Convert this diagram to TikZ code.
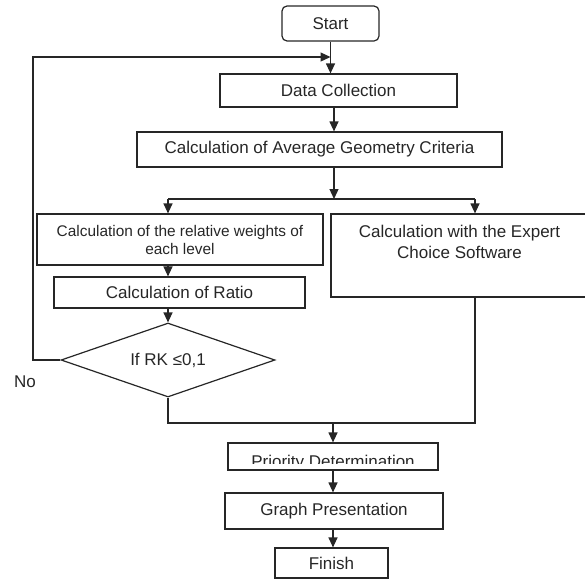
\documentclass[tikz,border=0pt]{standalone}
\usepackage{fontspec}
\setmainfont{Liberation Sans}
\usetikzlibrary{positioning}
\usetikzlibrary{calc}
\usetikzlibrary{shapes.geometric}
\usetikzlibrary{arrows.meta}
\tikzset{
    stepbox/.style={
    draw,
    inner sep=0pt,
    align=center
    },
    >={Triangle[length=10pt,width=9pt]}
}

\begin{document}
\begin{tikzpicture}[x=1pt,y=-1pt,line width=1.2pt,color=black!85]
\fontsize{17}{21}\selectfont
\useasboundingbox (0,0) rectangle (585,579);

\node [stepbox,rounded corners=5pt,minimum width=97pt,minimum height=35pt](start) at (330.5,23.5) {Start};
\node [stepbox,minimum width=237pt,minimum height=33pt](dc) at (338.5,90.5) {Data Collection};
\node [stepbox,minimum width=365pt,minimum height=35pt](avg) at (319.5,149.5) {Calculation of Average Geometry Criteria};

\node [stepbox,minimum width=286pt,minimum height=51pt,font=\fontsize{15.4}{18}\selectfont](rw) at (180,239.5) {Calculation of the relative weights of\\each level};
\node [stepbox,minimum width=257pt,minimum height=83pt](ex) at (459.5,255.5) {};
\node [anchor=north,align=center](ext) at ([yshift=-6pt]ex.north) {Calculation with the Expert\\Choice Software};

\node [stepbox,minimum width=251pt,minimum height=31pt](ra) at (179.5,292.5) {Calculation of Ratio};
\node [stepbox,diamond,aspect=2.9,minimum width=214pt,minimum height=74pt](dia) at (168,360) {If RK ≤0,1};
\node (no) at (25,382) {No};

\node [stepbox,minimum width=210pt,minimum height=27pt](pri) at (333,456.5) {};
\begin{scope}
\clip (pri.north west) rectangle ([yshift=7pt]pri.south east);
\node [anchor=base](prit) at (333,467) {Priority Determination};
\end{scope}
\node [stepbox,minimum width=218pt,minimum height=36pt](gp) at (334,511) {Graph Presentation};
\node [stepbox,minimum width=113pt,minimum height=30pt](fin) at (331.5,563) {Finish};

% columns of the connectors
\coordinate (lp) at (33,57);
\coordinate (br) at (334,199);
\coordinate (lc) at (168,199);
\coordinate (rc) at (475,199);
\coordinate (jn) at (333,423);

\draw[->] (start.south) -- (start.south |- dc.north);
\draw[->] (dia.west) -| (lp) -- (lp -| start.south);
\draw[->] (dc.south -| br) -- (br |- avg.north);
\draw[->] (avg.south -| br) -- (br);

\draw (lc) -- (rc);
\draw[->] (lc) -- (lc |- rw.north);
\draw[->] (rc) -- (rc |- ex.north);
\draw[->] (lc |- rw.south) -- (lc |- ra.north);
\draw[->] (lc |- ra.south) -- (dia.north);

\draw (dia.south) |- (jn) -| (rc |- ex.south);
\draw[->] (jn) -- (jn |- pri.north);
\draw[->] (jn |- pri.south) -- (jn |- gp.north);
\draw[->] (jn |- gp.south) -- (jn |- fin.north);

\end{tikzpicture}
\end{document}
